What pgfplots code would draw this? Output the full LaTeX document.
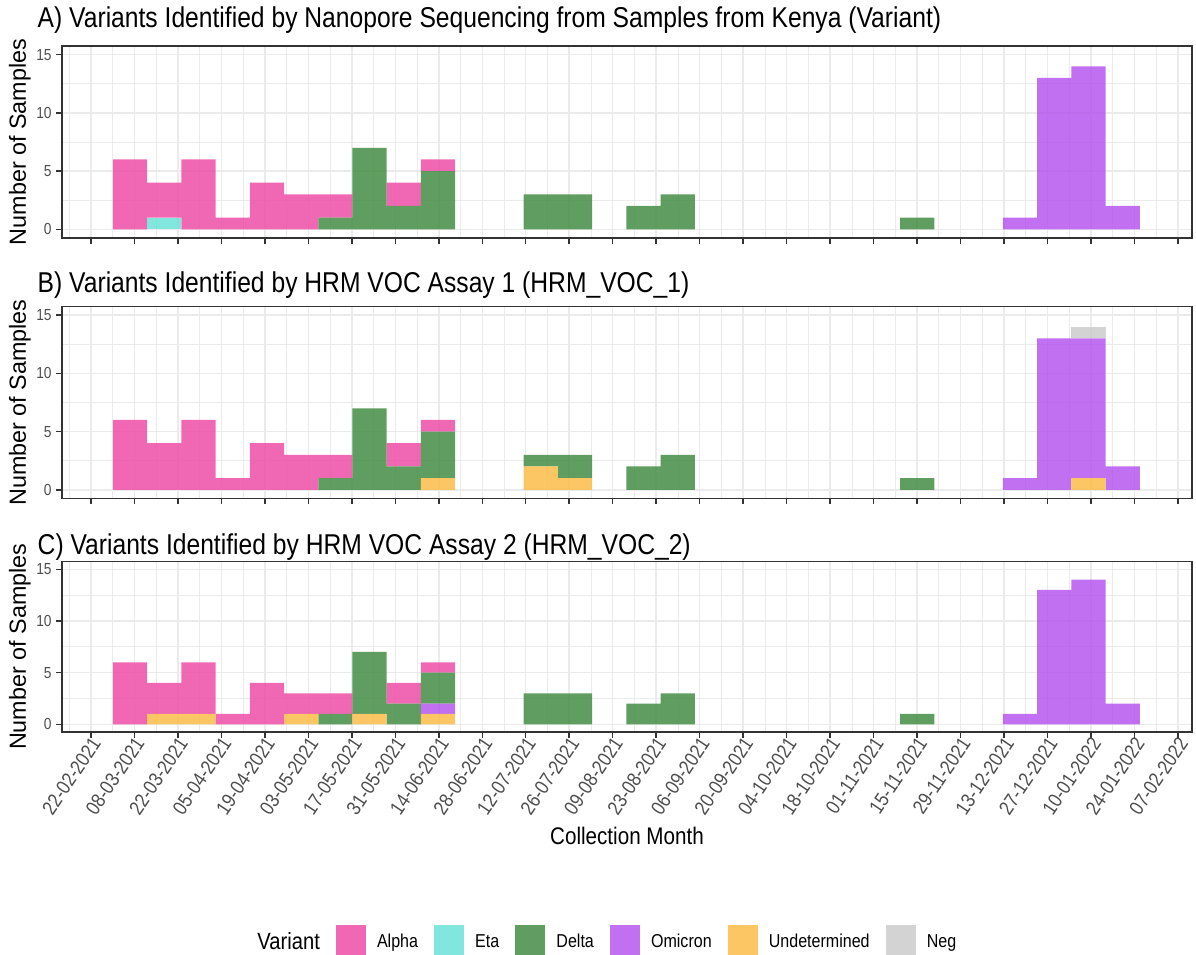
\documentclass[border=0pt]{standalone}
\usepackage{pgfplots}
\pgfplotsset{compat=1.18}
\usepackage{pgfplotstable}
\usepackage{fontspec}
\setmainfont{Liberation Sans}[FakeStretch=0.86]
\newfontfamily\yfont{Liberation Sans}

\definecolor{alphaC}{RGB}{237,78,167}
\definecolor{etaC}{RGB}{106,226,216}
\definecolor{deltaC}{RGB}{67,141,68}
\definecolor{omiC}{RGB}{181,87,237}
\definecolor{undC}{RGB}{252,188,73}
\definecolor{negC}{RGB}{203,203,203}
\definecolor{grey20}{HTML}{333333}
\definecolor{grey30}{HTML}{4D4D4D}
\definecolor{grey92}{HTML}{EBEBEB}

% bins of 11.02 days, x = days after 22-02-2021 (bin centre)
\pgfplotstableread{
x      al et de om un ng
12.59  6  0  0  0  0  0
23.61  3  1  0  0  0  0
34.63  6  0  0  0  0  0
45.65  1  0  0  0  0  0
56.67  4  0  0  0  0  0
67.69  3  0  0  0  0  0
78.71  2  0  1  0  0  0
89.73  0  0  7  0  0  0
100.75 2  0  2  0  0  0
111.77 1  0  5  0  0  0
144.83 0  0  3  0  0  0
155.85 0  0  3  0  0  0
177.89 0  0  2  0  0  0
188.91 0  0  3  0  0  0
266.05 0  0  1  0  0  0
299.11 0  0  0  1  0  0
310.13 0  0  0  13 0  0
321.15 0  0  0  14 0  0
332.17 0  0  0  2  0  0
}\tA

\pgfplotstableread{
x      al et de om un ng
12.59  6  0  0  0  0  0
23.61  4  0  0  0  0  0
34.63  6  0  0  0  0  0
45.65  1  0  0  0  0  0
56.67  4  0  0  0  0  0
67.69  3  0  0  0  0  0
78.71  2  0  1  0  0  0
89.73  0  0  7  0  0  0
100.75 2  0  2  0  0  0
111.77 1  0  4  0  1  0
144.83 0  0  1  0  2  0
155.85 0  0  2  0  1  0
177.89 0  0  2  0  0  0
188.91 0  0  3  0  0  0
266.05 0  0  1  0  0  0
299.11 0  0  0  1  0  0
310.13 0  0  0  13 0  0
321.15 0  0  0  12 1  1
332.17 0  0  0  2  0  0
}\tB

\pgfplotstableread{
x      al et de om un ng
12.59  6  0  0  0  0  0
23.61  3  0  0  0  1  0
34.63  5  0  0  0  1  0
45.65  1  0  0  0  0  0
56.67  4  0  0  0  0  0
67.69  2  0  0  0  1  0
78.71  2  0  1  0  0  0
89.73  0  0  6  0  1  0
100.75 2  0  2  0  0  0
111.77 1  0  3  1  1  0
144.83 0  0  3  0  0  0
155.85 0  0  3  0  0  0
177.89 0  0  2  0  0  0
188.91 0  0  3  0  0  0
266.05 0  0  1  0  0  0
299.11 0  0  0  1  0  0
310.13 0  0  0  13 0  0
321.15 0  0  0  14 0  0
332.17 0  0  0  2  0  0
}\tC

\pgfplotsset{
  panel/.style={
    anchor=south west, scale only axis, width=847.5pt,
    xmin=-9.3, xmax=354.5, ymin=-0.75, ymax=15.75,
    xtick={0,14,...,350}, minor xtick={-7,7,...,343},
    ytick={0,5,10,15}, minor ytick={2.5,7.5,12.5},
    grid=both,
    major grid style={draw=grey92, line width=1.1pt},
    minor grid style={draw=grey92, line width=0.55pt},
    tick align=outside, xtick pos=left, ytick pos=left,
    major tick length=4.3pt, minor tick length=0pt,
    tick style={draw=grey20, line width=1.1pt},
    axis line style={draw=grey20, line width=1.1pt},
    /pgf/number format/assume math mode=true,
    yticklabel style={font=\fontsize{12}{13}\selectfont, text=grey30},
    ylabel={Number of Samples},
    ylabel style={font=\yfont\fontsize{17.5}{20}\selectfont, at={(axis description cs:-0.0372,0.5)}, anchor=center},
    ybar stacked, bar width=11.02,
  },
  bars/.style={draw=none, fill=#1, fill opacity=0.85},
}

\newcommand{\stackbars}[1]{%
  \addplot[bars=undC] table[x=x,y=un]{#1};
  \addplot[bars=omiC] table[x=x,y=om]{#1};
  \addplot[bars=deltaC] table[x=x,y=de]{#1};
  \addplot[bars=etaC] table[x=x,y=et]{#1};
  \addplot[bars=alphaC] table[x=x,y=al]{#1};
  \addplot[bars=negC] table[x=x,y=ng]{#1};
}

\begin{document}
\begin{tikzpicture}
\useasboundingbox (0,0) rectangle (897pt,715.5pt);

\begin{axis}[panel, at={(46.5pt,537pt)}, height=144pt, xticklabels={}]
\stackbars{\tA}
\end{axis}

\begin{axis}[panel, at={(46.5pt,341.625pt)}, height=144pt, xticklabels={}]
\stackbars{\tB}
\end{axis}

\begin{axis}[panel, at={(46.5pt,166.5pt)}, height=127.875pt,
  xticklabels={22-02-2021,08-03-2021,22-03-2021,05-04-2021,19-04-2021,03-05-2021,17-05-2021,31-05-2021,14-06-2021,28-06-2021,12-07-2021,26-07-2021,09-08-2021,23-08-2021,06-09-2021,20-09-2021,04-10-2021,18-10-2021,01-11-2021,15-11-2021,29-11-2021,13-12-2021,27-12-2021,10-01-2022,24-01-2022,07-02-2022},
  xticklabel style={font=\fontsize{15}{16}\selectfont, text=grey30, inner sep=0pt, xshift=4pt, yshift=-1.25pt, rotate=56, anchor=east},
  xlabel={Collection Month},
  xlabel style={font=\fontsize{18}{20}\selectfont, at={(axis description cs:0.5,-0.61)}, anchor=center}]
\stackbars{\tC}
\end{axis}

% legend
\begin{axis}[at={(46.5pt,166.5pt)}, anchor=south west, scale only axis,
  width=847.5pt, height=127.875pt, hide axis,
  xmin=0, xmax=1, ymin=0, ymax=1,
  legend columns=7,
  legend style={at={(axis description cs:0.163,-1.235)}, anchor=west,
    draw=none, fill=none, inner sep=0pt,
    font=\fontsize{14}{16}\selectfont,
    nodes={inner sep=0pt},
    /tikz/every odd column/.append style={column sep=8.25pt},
    /tikz/every even column/.append style={column sep=12.1pt},
    /tikz/column 2/.append style={column sep=0pt}},
  legend image code/.code={\fill[draw=none,#1] (0pt,-14pt) rectangle (22.5pt,13pt);}]
\addlegendimage{empty legend}\addlegendentry{\fontsize{17.6}{20}\selectfont Variant}
\addlegendimage{fill=alphaC, fill opacity=0.85}\addlegendentry{Alpha}
\addlegendimage{fill=etaC, fill opacity=0.85}\addlegendentry{Eta}
\addlegendimage{fill=deltaC, fill opacity=0.85}\addlegendentry{Delta}
\addlegendimage{fill=omiC, fill opacity=0.85}\addlegendentry{Omicron}
\addlegendimage{fill=undC, fill opacity=0.85}\addlegendentry{Undetermined}
\addlegendimage{fill=negC, fill opacity=0.85}\addlegendentry{Neg}
\end{axis}

\node[anchor=base west, font=\fontsize{21.5}{24}\selectfont] at (24.75pt,694.5pt) {A) Variants Identified by Nanopore Sequencing from Samples from Kenya (Variant)};
\node[anchor=base west, font=\fontsize{21.5}{24}\selectfont] at (24.75pt,495.75pt) {B) Variants Identified by HRM VOC Assay 1 (HRM\_VOC\_1)};
\node[anchor=base west, font=\fontsize{21.5}{24}\selectfont] at (24.75pt,299.25pt) {C) Variants Identified by HRM VOC Assay 2 (HRM\_VOC\_2)};
\end{tikzpicture}
\end{document}
